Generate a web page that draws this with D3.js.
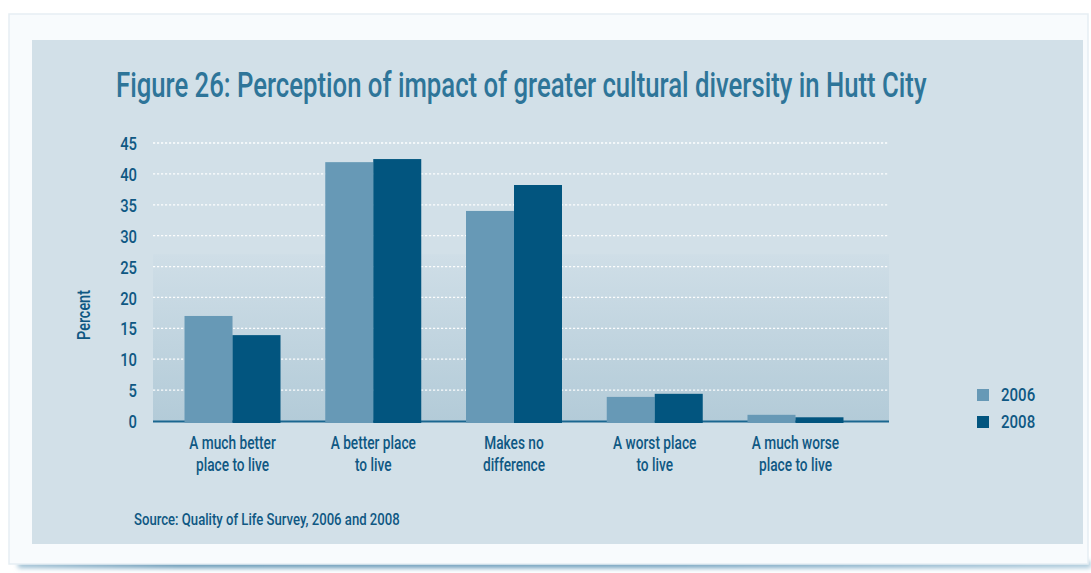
<!DOCTYPE html>
<html>
<head>
<meta charset="utf-8">
<script src="https://cdn.jsdelivr.net/npm/d3@7"></script>
<style>
  html, body { margin: 0; padding: 0; background: #ffffff; }
  svg { display: block; }
  text { font-family: Roboto, "Noto Sans", sans-serif; font-weight: 500; }
</style>
</head>
<body>
<svg id="chart" width="1091" height="573"></svg>
<script>
// Survey responses (percent of respondents)
const categories = [
  "A much better place to live",
  "A better place to live",
  "Makes no difference",
  "A worst place to live",
  "A much worse place to live"
];
const categoryLines = [
  ["A much better", "place to live"],
  ["A better place", "to live"],
  ["Makes no", "difference"],
  ["A worst place", "to live"],
  ["A much worse", "place to live"]
];
const series = ["2006", "2008"];
const values2006 = [17.0, 41.9, 34.0, 3.9, 1.0];
const values2008 = [13.9, 42.4, 38.2, 4.4, 0.6];
const yTicks = [0, 5, 10, 15, 20, 25, 30, 35, 40, 45];

const titleText = "Figure 26: Perception of impact of greater cultural diversity in Hutt City";
const sourceText = "Source: Quality of Life Survey, 2006 and 2008";

const colors = { "2006": "#6799b6", "2008": "#02557f" };
const textColor = "#0f5883";

const svg = d3.select("#chart");
const defs = svg.append("defs");

// squeeze a text horizontally so it spans the given width
function fitWidth(sel, x, y, width) {
  const len = sel.node().getComputedTextLength();
  sel.attr("transform", `translate(${x},${y}) scale(${width / len},1)`);
}

// soft shadow under the card
defs.append("filter").attr("id", "soft").attr("x", "-5%").attr("y", "-200%")
  .attr("width", "110%").attr("height", "500%")
  .append("feGaussianBlur").attr("stdDeviation", 2.5);

const shadowGrad = defs.append("linearGradient").attr("id", "shadowGrad")
  .attr("x1", 0).attr("x2", 1).attr("y1", 0).attr("y2", 0);
shadowGrad.append("stop").attr("offset", "0%").attr("stop-color", "#9dbfd3");
shadowGrad.append("stop").attr("offset", "15%").attr("stop-color", "#5f93b3");
shadowGrad.append("stop").attr("offset", "60%").attr("stop-color", "#6d9ebd");
shadowGrad.append("stop").attr("offset", "100%").attr("stop-color", "#a9c8da");

const plotGrad = defs.append("linearGradient").attr("id", "plotGrad")
  .attr("x1", 0).attr("x2", 0).attr("y1", 0).attr("y2", 1);
plotGrad.append("stop").attr("offset", "0%").attr("stop-color", "#cfdee7");
plotGrad.append("stop").attr("offset", "100%").attr("stop-color", "#b3cbd8");

// frame
svg.append("rect").attr("x", 18).attr("y", 561).attr("width", 1073).attr("height", 7)
  .attr("fill", "url(#shadowGrad)").attr("filter", "url(#soft)");
svg.append("rect").attr("x", 9).attr("y", 14).attr("width", 1079).attr("height", 550)
  .attr("fill", "#f8fbfd").attr("stroke", "#e6eef3").attr("stroke-width", 1.5);
svg.append("rect").attr("x", 32).attr("y", 40).attr("width", 1051).attr("height", 504)
  .attr("fill", "#d2e0e8");

// title
const title = svg.append("text")
  .attr("font-size", 36).attr("font-weight", 400).attr("fill", "#2e7599")
  .text(titleText);
fitWidth(title, 116, 97, 811);

// scales
const plotLeft = 153, plotRight = 889;
const x0 = d3.scaleBand().domain(categories).range([162, 866])
  .paddingInner(0.318).paddingOuter(0.16);
const x1 = d3.scaleBand().domain(series).range([0, x0.bandwidth()]);
const y = d3.scaleLinear().domain([0, 45]).range([421, 143]);

// shaded lower part of plot area
svg.append("rect").attr("x", plotLeft).attr("y", y(27)).attr("width", plotRight - plotLeft)
  .attr("height", y(0) - y(27)).attr("fill", "url(#plotGrad)");

// gridlines
svg.append("g").selectAll("line").data(yTicks.filter(d => d > 0)).join("line")
  .attr("x1", plotLeft).attr("x2", plotRight)
  .attr("y1", d => y(d)).attr("y2", d => y(d))
  .attr("stroke", "#ffffff").attr("stroke-width", 1.3)
  .attr("stroke-dasharray", "2.2,1.8").attr("opacity", 0.95);

// y axis tick labels
const yAxis = d3.axisLeft(y).tickValues(yTicks).tickSize(0).tickPadding(0);
const yg = svg.append("g").attr("transform", "translate(137,0)").call(yAxis);
yg.select(".domain").remove();
yg.selectAll("text")
  .attr("font-size", 18.5).attr("fill", textColor)
  .attr("font-family", "Roboto, sans-serif").attr("font-weight", 500)
  .attr("x", null).attr("dy", "0.36em")
  .attr("transform", "scale(0.8,1)");

// axis label
const ylab = svg.append("text")
  .attr("text-anchor", "middle").attr("font-size", 19).attr("fill", textColor)
  .text("Percent");
const ylen = ylab.node().getComputedTextLength();
ylab.attr("transform", `translate(90,315) rotate(-90) scale(${50 / ylen},1)`);

// baseline
svg.append("line").attr("x1", plotLeft).attr("x2", plotRight)
  .attr("y1", y(0) + 0.5).attr("y2", y(0) + 0.5)
  .attr("stroke", "#1b6790").attr("stroke-width", 2);

// bars
const rows = categories.map((c, i) => ({ cat: c, vals: [
  { s: "2006", v: values2006[i] }, { s: "2008", v: values2008[i] } ] }));
const groups = svg.append("g").selectAll("g").data(rows).join("g")
  .attr("transform", d => `translate(${x0(d.cat)},0)`);
groups.selectAll("rect").data(d => d.vals).join("rect")
  .attr("x", d => x1(d.s)).attr("width", x1.bandwidth())
  .attr("y", d => y(d.v)).attr("height", d => y(0) - y(d.v) + 2)
  .attr("fill", d => colors[d.s]);

// category labels
const xl = svg.append("g").selectAll("g").data(categories).join("g")
  .attr("transform", d => `translate(${x0(d) + x0.bandwidth() / 2},0)`);
xl.each(function(d, i) {
  const g = d3.select(this);
  categoryLines[i].forEach((line, j) => {
    g.append("text").attr("text-anchor", "middle")
      .attr("transform", `translate(0,${449 + j * 22}) scale(0.74,1)`)
      .attr("font-size", 18.5).attr("fill", textColor)
      .text(line);
  });
});

// legend
const legend = svg.append("g").selectAll("g").data(series).join("g")
  .attr("transform", (d, i) => `translate(977,${389 + i * 27})`);
legend.append("rect").attr("width", 12).attr("height", 12).attr("fill", d => colors[d]);
legend.append("text").attr("transform", "translate(24,12) scale(0.86,1)")
  .attr("font-size", 17.5).attr("fill", textColor).text(d => d);

// source note
const src = svg.append("text")
  .attr("font-size", 16).attr("fill", textColor)
  .text(sourceText);
fitWidth(src, 134, 525, 266);
</script>
</body>
</html>
